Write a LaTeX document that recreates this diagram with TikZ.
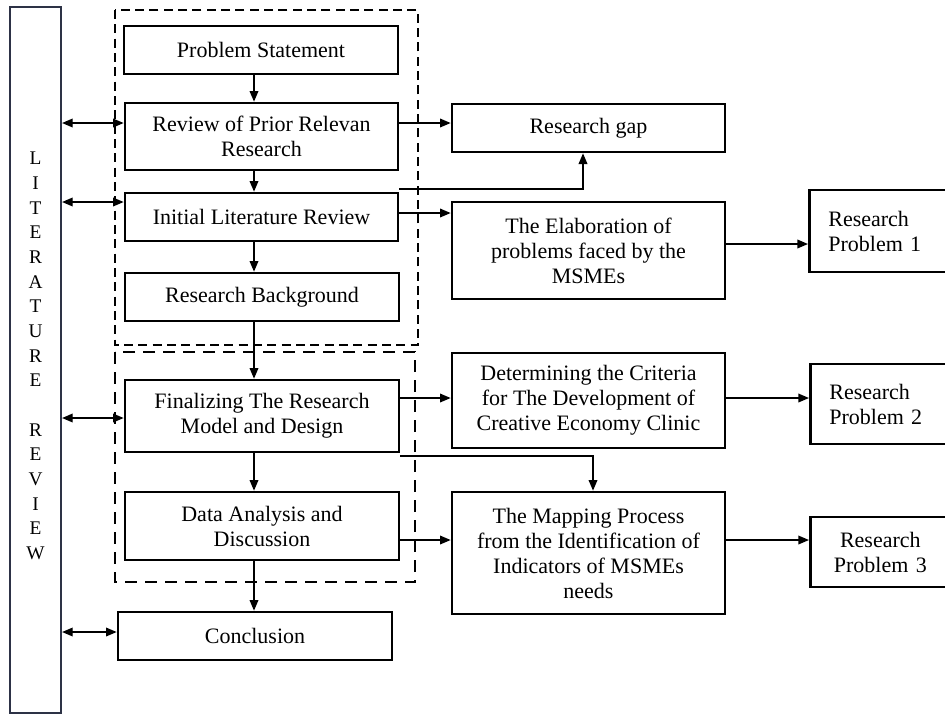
\documentclass[tikz,border=0pt]{standalone}
\usepackage{fontspec}
\setmainfont{Liberation Serif}
\usetikzlibrary{arrows.meta}
\begin{document}
\begin{tikzpicture}[x=0.75pt,y=-0.75pt,
  sz/.style 2 args={minimum width=#1*0.75pt, minimum height=#2*0.75pt},
  box/.style={draw, line width=2pt, align=center, inner sep=0pt,
    font=\fontsize{16.5}{18.75}\selectfont},
  rpbox/.style={draw, line width=2pt, inner ysep=0pt, inner xsep=19*0.75pt,
    text width=112*0.75pt, font=\fontsize{16.5}{18.75}\selectfont},
  barbox/.style={draw={rgb,255:red,45;green,50;blue,70}, line width=1.6pt, inner sep=0pt},
  letters/.style={align=center, inner sep=0pt, font=\fontsize{14.5}{18.5}\selectfont},
  arr/.style={line width=1.1pt, -{Triangle[length=8pt,width=6.5pt]}},
  darr/.style={line width=1.1pt, {Triangle[length=8pt,width=6.5pt]}-{Triangle[length=8pt,width=6.5pt]}},
  dashA/.style={line width=1.9pt, dash pattern=on 6.75pt off 4pt},
  dashB/.style={line width=1.9pt, dash pattern=on 9pt off 6pt}]
\useasboundingbox (0,0) rectangle (945,715);
\clip (0,0) rectangle (945,715);

% literature review bar
\node[barbox, sz={51}{706}] (bar) at (35.5,360) {};
\node[letters] (lit) at (35.5,356) {L\\I\\T\\E\\R\\A\\T\\U\\R\\E\\~\\R\\E\\V\\I\\E\\W};

% dashed groups
\draw[dashA] (115,10) rectangle (418,345);
\draw[dashB] (115,352) rectangle (415,582);

% left column
\node[box, sz={274}{48}] (PS) at (261,50) {Problem Statement};
\node[box, sz={273}{67}] (RV) at (261.5,136.5) {Review of Prior Relevan\\Research};
\node[box, sz={273}{48}] (IL) at (261.5,217) {Initial Literature Review};
\node[box, sz={274}{48}] (RB) at (262,297) {Research Background};
\node[box, sz={274}{72}] (FN) at (262,416) {Finalizing The Research\\Model and Design};
\node[box, sz={274}{68}] (DA) at (262,526) {Data Analysis and\\Discussion};
\node[box, sz={274}{48}] (CO) at (255,636) {Conclusion};

% middle column
\node[box, sz={273}{48}] (GAP) at (588.5,128) {Research gap};
\node[box, sz={273}{97}] (EL) at (588.5,250.5) {The Elaboration of\\problems faced by the\\MSMEs};
\node[box, sz={273}{95}] (DE) at (588.5,400.5) {Determining the Criteria\\for The Development of\\Creative Economy Clinic};
\node[box, sz={273}{122}] (MP) at (588.5,553) {The Mapping Process\\from the Identification of\\Indicators of MSMEs\\needs};

% right column
\node[rpbox, align=left, sz={150}{82}, anchor=west] (RP1) at (808,231) {Research\\Problem 1};
\node[rpbox, align=left, sz={150}{80}, anchor=west] (RP2) at (809,404) {Research\\Problem 2};
\node[rpbox, align=center, text width=102*0.75pt, sz={140}{70}, anchor=west] (RP3) at (809,552) {Research\\Problem 3};

% helper coordinates
\coordinate (ax) at (254,0);
\coordinate (y1) at (0,123);
\coordinate (y2) at (0,202);
\coordinate (y3) at (0,418);
\coordinate (y4) at (0,632);
\coordinate (y5) at (0,213);
\coordinate (y6) at (0,244);
\coordinate (y7) at (0,398);
\coordinate (y8) at (0,540);
\coordinate (c1) at (583,189);
\coordinate (c2) at (593,456);

% vertical flow
\draw[arr] (PS.south -| ax) -- (RV.north -| ax);
\draw[arr] (RV.south -| ax) -- (IL.north -| ax);
\draw[arr] (IL.south -| ax) -- (RB.north -| ax);
\draw[arr] (RB.south -| ax) -- (FN.north -| ax);
\draw[arr] (FN.south -| ax) -- (DA.north -| ax);
\draw[arr] (DA.south -| ax) -- (CO.north -| ax);

% literature review links
\draw[darr] (bar.east |- y1) -- (RV.west |- y1);
\draw[darr] (bar.east |- y2) -- (IL.west |- y2);
\draw[darr] (bar.east |- y3) -- (FN.west |- y3);
\draw[darr] (bar.east |- y4) -- (CO.west |- y4);

% to middle column
\draw[arr] (RV.east |- y1) -- (GAP.west |- y1);
\draw[arr] (IL.east |- c1) -| (GAP.south -| c1);
\draw[arr] (IL.east |- y5) -- (EL.west |- y5);
\draw[arr] (FN.east |- y7) -- (DE.west |- y7);
\draw[arr] (FN.east |- c2) -| (MP.north -| c2);
\draw[arr] (DA.east |- y8) -- (MP.west |- y8);

% to right column
\draw[arr] (EL.east |- y6) -- (RP1.west |- y6);
\draw[arr] (DE.east |- y7) -- (RP2.west |- y7);
\draw[arr] (MP.east |- y8) -- (RP3.west |- y8);
\end{tikzpicture}
\end{document}
